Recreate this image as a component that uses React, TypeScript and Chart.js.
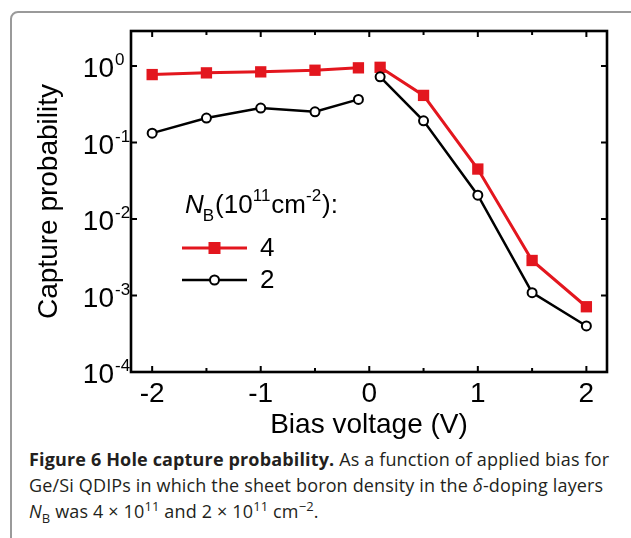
import React, { useEffect, useRef } from 'react';
import { Chart, registerables } from 'chart.js';

Chart.register(...registerables);

// ---- data ----
const biasVoltage = [-2, -1.5, -1, -0.5, -0.1, 0, 0.1, 0.5, 1, 1.5, 2]; // x = 0 is a break in the curves
const captureNB4 = [0.773, 0.814, 0.839, 0.881, 0.947, null, 0.962, 0.413, 0.045, 0.00287, 0.000713];
const captureNB2 = [0.1325, 0.209, 0.282, 0.252, 0.366, null, 0.722, 0.192, 0.0205, 0.00109, 0.0004];

const seriesLabels = ['4', '2'];
const xTickValues = [-2, -1, 0, 1, 2];
const xTickLabels = ['-2', '-1', '0', '1', '2'];
const xMinorTickValues = [-1.5, -0.5, 0.5, 1.5];
const yTickValues = [1, 0.1, 0.01, 0.001, 0.0001];
const yTickBase = '10';
const yTickExponents = ['0', '-1', '-2', '-3', '-4'];

const X_TITLE = 'Bias voltage (V)';
const Y_TITLE = 'Capture probability';

const RED = '#e3161e';
const BLACK = '#000000';
const FONT = '"Liberation Sans", Arial, Helvetica, sans-serif';

const CANVAS_W = 631;
const CANVAS_H = 445;

const framePlugin = {
  id: 'frameTicks',
  afterDatasetsDraw(chart: any) {
    const { ctx, chartArea: a, scales } = chart;
    const xs = scales.x;
    const ys = scales.y;
    ctx.save();
    ctx.strokeStyle = '#000';
    ctx.lineCap = 'butt';
    ctx.lineWidth = 2;
    const major = 6;
    const minor = 4;
    const vt = (vals: number[], len: number) => {
      vals.forEach((v) => {
        const px = xs.getPixelForValue(v);
        ctx.beginPath();
        ctx.moveTo(px, a.bottom);
        ctx.lineTo(px, a.bottom - len);
        ctx.moveTo(px, a.top);
        ctx.lineTo(px, a.top + len);
        ctx.stroke();
      });
    };
    vt(xTickValues, major);
    vt(xMinorTickValues, minor);
    yTickValues.forEach((v) => {
      const py = ys.getPixelForValue(v);
      ctx.beginPath();
      ctx.moveTo(a.left, py);
      ctx.lineTo(a.left + major, py);
      ctx.moveTo(a.right, py);
      ctx.lineTo(a.right - major, py);
      ctx.stroke();
    });
    ctx.lineWidth = 2.6;
    ctx.strokeRect(a.left, a.top, a.right - a.left, a.bottom - a.top);
    ctx.restore();
  },
  afterDraw(chart: any) {
    const { ctx, chartArea: a, scales } = chart;
    const ys = scales.y;
    ctx.save();
    ctx.fillStyle = '#000';
    // y tick labels 10^n
    yTickValues.forEach((v, i) => {
      const py = ys.getPixelForValue(v);
      ctx.font = `28px ${FONT}`;
      ctx.textAlign = 'right';
      ctx.textBaseline = 'alphabetic';
      const baseRight = a.left - 17;
      ctx.fillText(yTickBase, baseRight, py + 11);
      ctx.font = `17px ${FONT}`;
      ctx.textAlign = 'left';
      ctx.fillText(yTickExponents[i], baseRight + 1, py - 1);
    });

    // legend
    const lx = a.left + 54;
    const ty = a.top + 182;
    let cx = lx;
    const big = `26px ${FONT}`;
    const small = `17px ${FONT}`;
    ctx.textAlign = 'left';
    ctx.textBaseline = 'alphabetic';
    const put = (t: string, font: string, dy: number, gap = 0) => {
      ctx.font = font;
      ctx.fillText(t, cx, ty + dy);
      cx += ctx.measureText(t).width + gap;
    };
    put('N', `italic 26px ${FONT}`, 0, -1);
    put('B', small, 8, 1);
    put('(10', big, 0);
    put('11', small, -12, 1);
    put('cm', big, 0);
    put('-2', small, -12, 1);
    put('):', big, 0);

    const rows = [
      { label: seriesLabels[0], color: RED, y: a.top + 217, marker: 'rect' },
      { label: seriesLabels[1], color: BLACK, y: a.top + 249, marker: 'circle' },
    ];
    rows.forEach((r) => {
      const x0 = lx - 3;
      const x1 = lx + 62;
      const mx = (x0 + x1) / 2;
      ctx.strokeStyle = r.color;
      ctx.lineWidth = r.marker === 'rect' ? 3 : 2.5;
      ctx.beginPath();
      ctx.moveTo(x0, r.y);
      ctx.lineTo(x1, r.y);
      ctx.stroke();
      if (r.marker === 'rect') {
        ctx.fillStyle = r.color;
        ctx.fillRect(mx - 6, r.y - 6, 12, 12);
      } else {
        ctx.fillStyle = '#fff';
        ctx.lineWidth = 2;
        ctx.beginPath();
        ctx.arc(mx, r.y, 4.5, 0, Math.PI * 2);
        ctx.fill();
        ctx.stroke();
      }
      ctx.fillStyle = '#000';
      ctx.font = `26px ${FONT}`;
      ctx.textBaseline = 'middle';
      ctx.fillText(r.label, x1 + 13, r.y + 1);
      ctx.textBaseline = 'alphabetic';
    });
    ctx.restore();
  },
};

export default function App() {
  const canvasRef = useRef<HTMLCanvasElement | null>(null);

  useEffect(() => {
    const canvas = canvasRef.current;
    if (!canvas) return;
    const toPoints = (ys: (number | null)[]) => biasVoltage.map((x, i) => ({ x, y: ys[i] }));
    const chart = new Chart(canvas, {
      type: 'line',
      data: {
        datasets: [
          {
            label: seriesLabels[1],
            data: toPoints(captureNB2) as any,
            borderColor: BLACK,
            borderWidth: 2.5,
            pointStyle: 'circle',
            pointRadius: 4.5,
            pointBorderWidth: 2,
            pointBackgroundColor: '#fff',
            pointBorderColor: BLACK,
            spanGaps: false,
            tension: 0,
          },
          {
            label: seriesLabels[0],
            data: toPoints(captureNB4) as any,
            borderColor: RED,
            borderWidth: 3,
            pointStyle: 'rect',
            pointRadius: 8,
            pointBorderWidth: 0,
            pointBackgroundColor: RED,
            pointBorderColor: RED,
            spanGaps: false,
            tension: 0,
          },
        ],
      },
      options: {
        animation: false,
        responsive: false,
        maintainAspectRatio: false,
        devicePixelRatio: 1,
        layout: { padding: { left: 0, top: 31, right: 24, bottom: 0 } },
        plugins: { legend: { display: false }, tooltip: { enabled: false } },
        scales: {
          x: {
            type: 'linear',
            min: -2.195,
            max: 2.19,
            grid: { display: false, drawTicks: false },
            border: { display: false },
            afterBuildTicks: (s: any) => {
              s.ticks = xTickValues.map((v) => ({ value: v }));
            },
            afterFit: (s: any) => {
              s.height = 73;
            },
            ticks: {
              autoSkip: false,
              maxRotation: 0,
              padding: 5,
              color: '#000',
              font: { family: FONT, size: 28 },
              callback: (_v: any, i: number) => xTickLabels[i],
            },
            title: {
              display: true,
              text: X_TITLE,
              color: '#000',
              font: { family: FONT, size: 28 },
              padding: { top: 0, bottom: 3 },
            },
          },
          y: {
            type: 'logarithmic',
            min: 0.0001,
            max: 2.87,
            grid: { display: false, drawTicks: false },
            border: { display: false },
            afterBuildTicks: (s: any) => {
              s.ticks = yTickValues.map((v) => ({ value: v }));
            },
            afterFit: (s: any) => {
              s.width = 131;
            },
            ticks: { display: false },
            title: {
              display: true,
              text: Y_TITLE,
              color: '#000',
              font: { family: FONT, size: 28 },
              padding: { top: 32, bottom: 0 },
            },
          },
        },
      } as any,
      plugins: [framePlugin],
    });
    return () => chart.destroy();
  }, []);

  const sup: React.CSSProperties = { fontSize: '0.72em', verticalAlign: 'super', lineHeight: 0 };
  const sub: React.CSSProperties = { fontSize: '0.72em', verticalAlign: 'sub', lineHeight: 0 };

  return (
    <div
      style={{
        position: 'fixed',
        left: 0,
        top: 0,
        width: 631,
        height: 538,
        overflow: 'hidden',
        background: '#fff',
      }}
    >
      <div
        style={{
          position: 'absolute',
          left: 10,
          top: 11,
          width: 660,
          height: 600,
          border: '2px solid #9a9a9a',
          borderRadius: 8,
          boxSizing: 'border-box',
        }}
      />
      <canvas
        ref={canvasRef}
        width={CANVAS_W}
        height={CANVAS_H}
        style={{ position: 'absolute', left: 0, top: 0, width: CANVAS_W, height: CANVAS_H }}
      />
      <div
        style={{
          position: 'absolute',
          left: 29,
          top: 446,
          whiteSpace: 'nowrap',
          fontFamily: '"Open Sans", "Noto Sans", sans-serif',
          fontSize: 18,
          letterSpacing: '0.15px',
          lineHeight: '26px',
          color: '#231f20',
        }}
      >
        <b>Figure 6 Hole capture probability.</b> As a function of applied bias for
        <br />
        Ge/Si QDIPs in which the sheet boron density in the <i>δ</i>-doping layers
        <br />
        <i>N</i>
        <span style={sub}>B</span> was 4 × 10<span style={sup}>11</span> and 2 × 10
        <span style={sup}>11</span> cm<span style={sup}>−2</span>.
      </div>
    </div>
  );
}
